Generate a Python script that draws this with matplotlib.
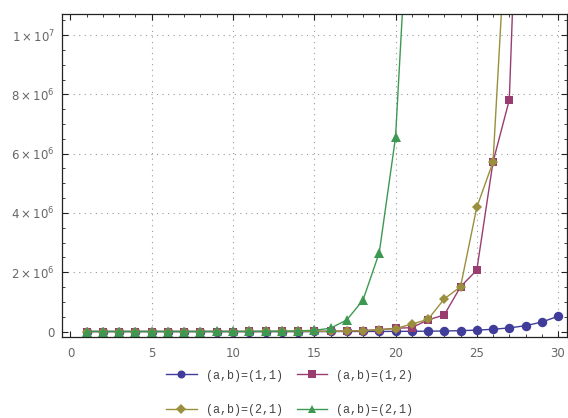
import matplotlib
matplotlib.use("Agg")
import matplotlib.pyplot as plt
import matplotlib.ticker as ticker
from matplotlib.lines import Line2D

# data
n = list(range(1, 31))
ab_11 = [0, 1, 1, 2, 3, 5, 8, 13, 21, 34, 55, 89, 144, 233, 377, 610, 987, 1597,
         2584, 4181, 6765, 10946, 17711, 28657, 46368, 75025, 121393, 196418,
         317811, 514229]
n_12 = list(range(1, 29))
ab_12 = [1, 1, 3, 5, 9, 15, 25, 45, 80, 140, 250, 450, 800, 1500, 2800, 6000,
         13000, 28000, 60000, 110000, 130000, 390000, 560000, 1510000, 2070000,
         5720000, 7810000, 23000000]
n_21 = list(range(1, 28))
ab_21 = [1, 2, 3, 5, 9, 16, 28, 50, 90, 160, 290, 520, 950, 1700, 3200, 6500,
         14000, 30000, 60000, 100000, 250000, 410000, 1100000, 1510000, 4190000,
         5720000, 15500000]
n_21b = list(range(1, 22))
ab_21b = [1, 2, 4, 8, 16, 35, 80, 180, 400, 900, 2000, 4500, 10000, 20000, 40000,
          110000, 390000, 1060000, 2660000, 6550000, 16500000]

series = [
    (n, ab_11, "#3F3D99", "o", 6.8, "(a,b)=(1,1)"),
    (n_12, ab_12, "#993D71", "s", 6.2, "(a,b)=(1,2)"),
    (n_21, ab_21, "#998F3D", "D", 5.6, "(a,b)=(2,1)"),
    (n_21b, ab_21b, "#3D9951", "^", 6.8, "(a,b)=(2,1)"),
]

fig = plt.figure(figsize=(5.68, 4.18), dpi=100)
ax = fig.add_axes([0.1092, 0.1938, 0.889, 0.7727])

handles = []
for xs, ys, color, marker, ms, label in series:
    ax.plot(xs, ys, color=color, lw=1.0, marker=marker, ms=ms, mew=0)
    handles.append(Line2D([], [], color=color, lw=1.0, marker=marker,
                          ms=ms * 0.85, mew=0))

ax.set_xlim(-0.52, 30.55)
ax.set_ylim(-0.185e6, 1.071e7)

ax.xaxis.set_major_locator(ticker.MultipleLocator(5))
ax.xaxis.set_minor_locator(ticker.MultipleLocator(1))
ax.yaxis.set_major_locator(ticker.MultipleLocator(2e6))
ax.yaxis.set_minor_locator(ticker.MultipleLocator(5e5))


def sci(v, pos):
    if v == 0:
        return "0"
    exp = len(str(int(round(v)))) - 1
    mant = int(round(v / 10 ** exp))
    return r"$%d\times10^{%d}$" % (mant, exp)


ax.yaxis.set_major_formatter(ticker.FuncFormatter(sci))

ax.tick_params(which="both", direction="in", top=True, right=True,
               colors="#222222", labelcolor="#666666", labelsize=8.5)
ax.tick_params(which="major", length=4.3, width=0.8)
ax.tick_params(which="minor", length=2.2, width=0.6)
ax.tick_params(axis="x", pad=7)
ax.tick_params(axis="y", pad=5)
for s in ax.spines.values():
    s.set_color("#222222")
    s.set_linewidth(0.9)

for gx in range(5, 31, 5):
    ax.axvline(gx, color="#999999", lw=0.8, ls=(0, (1, 4)), zorder=0)
for gy in range(2, 11, 2):
    ax.axhline(gy * 1e6, color="#999999", lw=0.8, ls=(0, (1, 4)), zorder=0)

labels = [s[5] for s in series]
order = [0, 2, 1, 3]
fig.legend([handles[i] for i in order], [labels[i] for i in order],
           loc="upper center", bbox_to_anchor=(0.51, 0.13), ncol=2,
           frameon=False, prop={"family": "Liberation Mono", "size": 8.5},
           labelcolor="#444444", labelspacing=1.9, handlelength=2.6,
           handletextpad=0.75, columnspacing=1.2, borderpad=0)

fig.savefig("out.png", dpi=100)
